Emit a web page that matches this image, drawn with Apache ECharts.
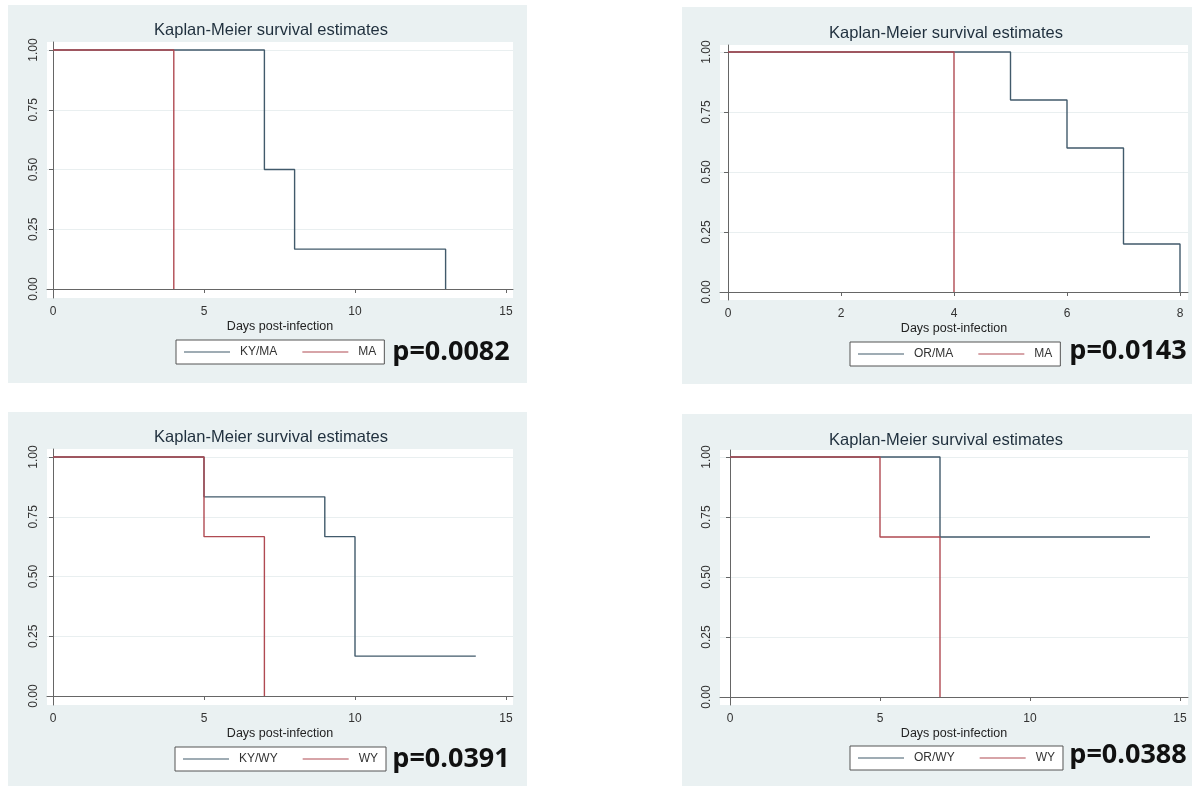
<!DOCTYPE html>
<html>
<head>
<meta charset="utf-8">
<title>Kaplan-Meier survival estimates</title>
<script src="https://cdn.jsdelivr.net/npm/echarts@6/dist/echarts.min.js"></script>
<style>
    html, body { margin: 0; padding: 0; background: #fff; }
    #main { width: 1197px; height: 786px; }
</style>
</head>
<body>
<div id="main"></div>
<script>
// KM step points: days post-infection and survival estimate at each step
var kyMaTime = [0, 7, 8, 13];
var kyMaSurv = [1, 0.5, 0.1667, 0];
var maTime = [0, 4];
var maSurv = [1, 0];

var orMaTime = [0, 5, 6, 7, 8];
var orMaSurv = [1, 0.8, 0.6, 0.2, 0];

var kyWyTime = [0, 5, 9, 10, 14];
var kyWySurv = [1, 0.8333, 0.6667, 0.1667, 0.1667];
var wyTime = [0, 5, 7];
var wySurv = [1, 0.6667, 0];

var orWyTime = [0, 7, 14];
var orWySurv = [1, 0.6667, 0.6667];

var xTicks15 = [0, 5, 10, 15];
var xTicks8 = [0, 2, 4, 6, 8];
var yTicks = [0, 0.25, 0.5, 0.75, 1];

var pValues = ['p=0.0082', 'p=0.0143', 'p=0.0391', 'p=0.0388'];
var chartTitle = 'Kaplan-Meier survival estimates';
var xName = 'Days post-infection';

var panels = [
    { names: ['KY/MA', 'MA'], times: [kyMaTime, maTime], surv: [kyMaSurv, maSurv], xTicks: xTicks15 },
    { names: ['OR/MA', 'MA'], times: [orMaTime, maTime], surv: [orMaSurv, maSurv], xTicks: xTicks8 },
    { names: ['KY/WY', 'WY'], times: [kyWyTime, wyTime], surv: [kyWySurv, wySurv], xTicks: xTicks15 },
    { names: ['OR/WY', 'WY'], times: [orWyTime, wyTime], surv: [orWySurv, wySurv], xTicks: xTicks15 }
];

// pixel layout of each panel (bg box, plot box, where 0 and last tick land)
var layout = [
    { bg: [8, 5, 519, 378], left: 47, top: 42, width: 466, height: 256, x0: 53, xEnd: 506, y1: 50, y0: 289, title: [271, 30], legend: [176, 340], p: [451, 352] },
    { bg: [682, 7, 510, 377], left: 720, top: 45, width: 468, height: 255, x0: 728, xEnd: 1180, y1: 52, y0: 292, title: [946, 33], legend: [850, 342], p: [1128, 351] },
    { bg: [8, 412, 519, 374], left: 47, top: 449, width: 466, height: 256, x0: 53, xEnd: 506, y1: 457, y0: 696, title: [271, 437], legend: [175, 747], p: [451, 759] },
    { bg: [682, 414, 510, 372], left: 720, top: 450, width: 468, height: 255, x0: 730, xEnd: 1180, y1: 457, y0: 697, title: [946, 440], legend: [850, 746], p: [1128, 755] }
];

var colors = ['#415a6b', '#b04a52'];
var font = 'Liberation Sans, Arial, sans-serif';

var grids = [], xAxes = [], yAxes = [], series = [], legends = [], graphics = [];

panels.forEach(function (pn, i) {
    var L = layout[i];
    var lastTick = pn.xTicks[pn.xTicks.length - 1];
    var xUnit = (L.xEnd - L.x0) / lastTick;
    var yUnit = L.y0 - L.y1;

    graphics.push({
        type: 'rect', z: -10,
        shape: { x: L.bg[0], y: L.bg[1], width: L.bg[2], height: L.bg[3] },
        style: { fill: '#eaf1f2' }
    });
    graphics.push({
        type: 'text', z: 100, x: L.title[0], y: L.title[1],
        style: { text: chartTitle, fontFamily: font, fontSize: 16.5, fill: '#1f2f3d', align: 'center', verticalAlign: 'middle' }
    });
    graphics.push({
        type: 'text', z: 100, x: L.p[0], y: L.p[1],
        style: { text: pValues[i], fontFamily: 'Open Sans', fontWeight: 'bold', fontSize: 27, fill: '#111', align: 'center', verticalAlign: 'middle' }
    });

    grids.push({
        left: L.left, top: L.top, width: L.width, height: L.height,
        show: true, backgroundColor: '#fff', borderWidth: 0
    });

    xAxes.push({
        type: 'value', gridIndex: i,
        min: -(L.x0 - L.left) / xUnit,
        max: (L.left + L.width - L.x0) / xUnit,
        name: xName, nameLocation: 'middle', nameGap: 22,
        nameTextStyle: { fontFamily: font, fontSize: 12.5, color: '#222' },
        axisLine: { show: true, lineStyle: { color: '#666', width: 1 } },
        axisTick: { show: true, length: 4, customValues: pn.xTicks, lineStyle: { color: '#666' } },
        axisLabel: { customValues: pn.xTicks, fontFamily: font, fontSize: 12, color: '#333', margin: 8 },
        splitLine: { show: false }
    });

    yAxes.push({
        type: 'value', gridIndex: i,
        min: -(L.top + L.height - L.y0) / yUnit,
        max: (L.y0 - L.top) / yUnit,
        axisLine: { show: true, lineStyle: { color: '#666', width: 1 } },
        axisTick: { show: true, length: 4, customValues: yTicks, lineStyle: { color: '#666' } },
        axisLabel: {
            customValues: yTicks, rotate: 90, fontFamily: font, fontSize: 12, color: '#333', margin: 7,
            formatter: function (v) { return v.toFixed(2); }
        },
        splitLine: { show: true, lineStyle: { color: '#e9eff0', width: 1 } }
    });

    pn.names.forEach(function (nm, k) {
        series.push({
            name: nm, type: 'line', step: 'end',
            xAxisIndex: i, yAxisIndex: i,
            symbol: 'none', showSymbol: false,
            color: colors[k],
            lineStyle: { color: colors[k], width: 1.4 },
            z: 2 + k,
            data: pn.times[k].map(function (t, j) { return [t, pn.surv[k][j]]; })
        });
    });

    legends.push({
        data: pn.names,
        left: L.legend[0], top: L.legend[1],
        orient: 'horizontal',
        icon: 'path://M0,0 H46 V1 H0 Z',
        itemWidth: 46, itemHeight: 1.3, itemGap: 25,
        padding: [6, 8, 6, 8],
        backgroundColor: '#fff', borderColor: '#555', borderWidth: 1,
        selectedMode: false,
        textStyle: { fontFamily: font, fontSize: 12, color: '#333', padding: [0, 0, 0, 5] }
    });
});

var myChart = echarts.init(document.getElementById('main'));
myChart.setOption({
    animation: false,
    backgroundColor: '#fff',
    grid: grids,
    xAxis: xAxes,
    yAxis: yAxes,
    legend: legends,
    graphic: graphics,
    series: series
});
</script>
</body>
</html>
